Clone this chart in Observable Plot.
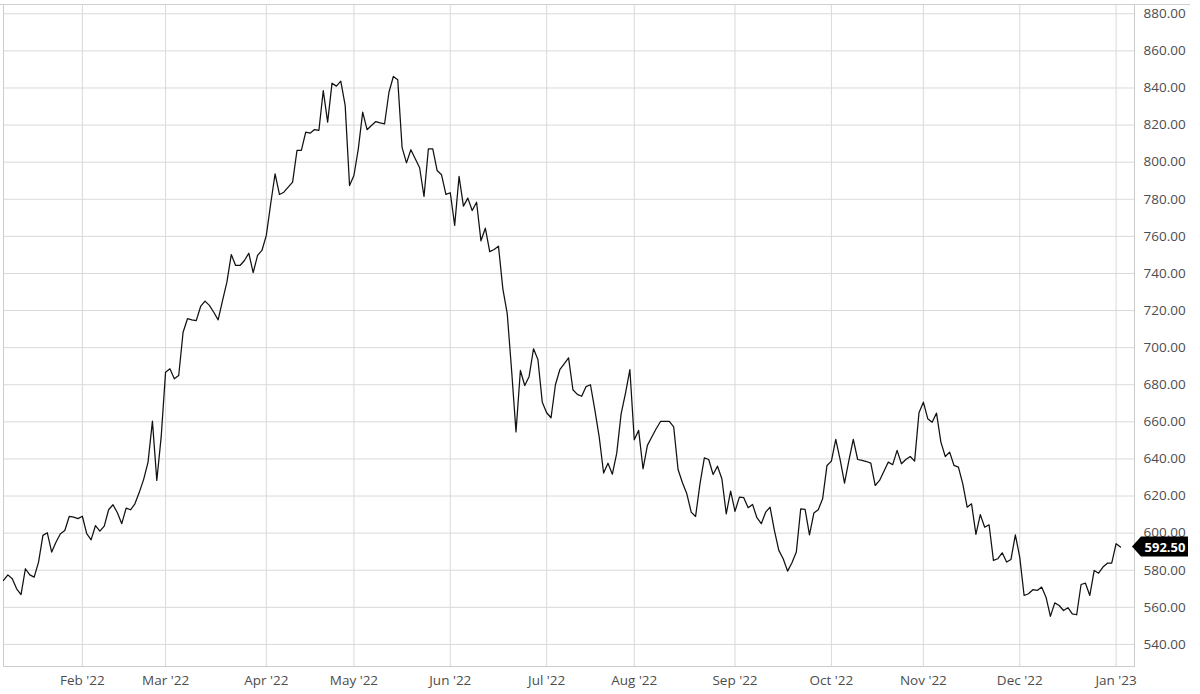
<!DOCTYPE html>
<html><head><meta charset="utf-8">
<script src="https://cdn.jsdelivr.net/npm/d3@7"></script>
<script src="https://cdn.jsdelivr.net/npm/@observablehq/plot@0.6"></script>
<style>
html,body{margin:0;padding:0;background:#fff;}
#chart{width:1200px;height:694px;overflow:hidden;}
</style></head><body><div id="chart"></div>
<script>
// Daily closing values, grouped by month (one entry per trading day)
const jan22 = [574.5, 577.5, 575.4, 570.0, 566.9, 580.8, 577.5, 576.3, 584.4, 598.8, 600.2, 589.8, 595.2, 599.7, 601.4, 609.0, 608.6, 607.8];
const feb22 = [609.1, 599.7, 596.4, 604.1, 601.1, 603.8, 612.6, 615.3, 611.0, 605.1, 613.5, 612.6, 615.8, 622.0, 629.0, 638.3, 660.4, 628.4, 652.0];
const mar22 = [686.8, 688.6, 683.2, 685.0, 708.3, 715.6, 715.0, 714.6, 722.2, 725.1, 722.8, 719.1, 715.0, 725.4, 735.3, 750.2, 744.3, 744.3, 747.0, 750.9, 740.4, 749.7, 752.4];
const apr22 = [760.5, 777.6, 793.7, 782.6, 783.8, 786.5, 789.2, 806.3, 806.3, 816.2, 815.6, 817.6, 817.1, 838.6, 821.6, 842.6, 841.0, 843.7, 830.6, 787.4];
const may22 = [792.8, 807.2, 827.0, 817.5, 819.8, 821.9, 821.2, 820.7, 837.7, 846.2, 844.4, 807.8, 799.6, 806.7, 801.8, 797.0, 781.5, 807.2, 807.2, 795.5, 793.2, 782.6];
const jun22 = [783.5, 765.9, 792.3, 776.3, 780.6, 773.9, 778.4, 757.6, 764.4, 751.8, 752.9, 754.7, 731.7, 718.3, 687.7, 654.6, 687.7, 679.6, 684.5, 699.4, 693.6, 670.6];
const jul22 = [664.9, 662.2, 680.0, 688.1, 691.3, 694.5, 677.3, 674.8, 673.8, 679.0, 680.0, 666.5, 651.8, 632.4, 637.7, 631.8, 643.1, 664.3, 675.5, 688.1];
const aug22 = [650.3, 655.4, 634.7, 647.3, 651.8, 656.3, 660.2, 660.2, 660.2, 657.3, 634.3, 627.2, 621.2, 611.3, 609.0, 626.6, 640.6, 639.7, 631.6, 636.1, 629.3, 610.4, 622.6];
const sep22 = [611.8, 619.4, 619.1, 613.7, 615.5, 608.3, 605.1, 611.3, 614.0, 601.4, 590.7, 586.2, 579.5, 584.0, 589.8, 613.1, 612.8, 599.1, 610.8, 612.6, 618.5, 636.5];
const oct22 = [638.8, 650.5, 639.6, 627.0, 639.2, 650.5, 639.7, 639.2, 638.6, 637.7, 625.7, 628.4, 633.4, 638.3, 636.9, 644.6, 637.4, 639.7, 641.3, 638.8, 664.9];
const nov22 = [670.6, 661.7, 659.8, 664.7, 649.1, 641.3, 643.7, 636.5, 635.6, 626.6, 614.0, 615.8, 599.3, 610.0, 603.2, 604.5, 585.3, 586.2, 589.4, 584.4, 585.8, 599.1];
const dec22 = [587.1, 566.4, 567.3, 569.5, 569.1, 570.9, 565.5, 555.1, 562.4, 561.0, 558.3, 559.8, 556.5, 556.0, 572.3, 573.0, 566.4, 579.9, 578.4, 581.7, 583.8, 583.8];
const jan23 = [594.3, 592.5];

const months = [jan22, feb22, mar22, apr22, may22, jun22, jul22, aug22, sep22, oct22, nov22, dec22, jan23];
const monthLabels = ["Jan '22", "Feb '22", "Mar '22", "Apr '22", "May '22", "Jun '22", "Jul '22", "Aug '22", "Sep '22", "Oct '22", "Nov '22", "Dec '22", "Jan '23"];
const yTicks = [540, 560, 580, 600, 620, 640, 660, 680, 700, 720, 740, 760, 780, 800, 820, 840, 860, 880];
const lastLabel = "592.50";

// Build one row per trading day, indexed sequentially (weekends/holidays collapsed)
const data = [];
const monthStarts = [];
months.forEach(arr => {
  monthStarts.push(data.length);
  arr.forEach(v => data.push({i: data.length, v}));
});
const xTicks = monthStarts.slice(1);
const tickLabel = new Map(xTicks.map((t, k) => [t, monthLabels[k + 1]]));

const plot = Plot.plot({
  width: 1200,
  height: 694,
  marginLeft: 3,
  marginRight: 66,
  marginTop: 4,
  marginBottom: 28,
  style: {fontFamily: "'Open Sans', sans-serif", fontSize: "13.5px", color: "#4d4d4d", background: "#fff", overflow: "visible"},
  x: {type: "linear", domain: [0, 258.2], axis: null},
  y: {domain: [528.1, 885], axis: null},
  marks: [
    Plot.gridX(xTicks, {stroke: "#d9d9d9", strokeOpacity: 1, strokeWidth: 1}),
    Plot.gridY(yTicks, {stroke: "#d9d9d9", strokeOpacity: 1, strokeWidth: 1}),
    Plot.frame({stroke: "#cccccc", strokeWidth: 1}),
    Plot.axisX(xTicks, {tickSize: 0, tickPadding: 9, label: null, tickFormat: d => tickLabel.get(d)}),
    Plot.axisY(yTicks, {anchor: "right", tickSize: 0, tickPadding: 9, label: null, tickFormat: d3.format(".2f")}),
    Plot.line(data, {x: "i", y: "v", stroke: "#111", strokeWidth: 1.25})
  ]
});

document.getElementById("chart").appendChild(plot);

// Last-value marker box on the right axis, positioned through Plot's scales
const yS = plot.scale("y");
const xS = plot.scale("x");
const last = data[data.length - 1];
const cy = yS.apply(last.v);
const x0 = xS.range[1];
const svg = d3.select(plot);
// top rule across the chart
svg.append("line")
  .attr("x1", 0).attr("x2", 1190)
  .attr("y1", yS.range[1] + 0.5).attr("y2", yS.range[1] + 0.5)
  .attr("stroke", "#d0d0d0");
const g = svg.append("g");
g.append("path")
  .attr("d", `M${x0 - 2},${cy} L${x0 + 7},${cy - 10} L${x0 + 54},${cy - 10} L${x0 + 54},${cy + 10} L${x0 + 7},${cy + 10} Z`)
  .attr("fill", "#000");
g.append("text")
  .attr("x", x0 + 31).attr("y", cy)
  .attr("text-anchor", "middle")
  .attr("dominant-baseline", "central")
  .attr("fill", "#fff")
  .attr("font-weight", "700")
  .attr("font-size", "13px")
  .attr("font-family", "'Open Sans', sans-serif")
  .text(lastLabel);
</script>
</body></html>
